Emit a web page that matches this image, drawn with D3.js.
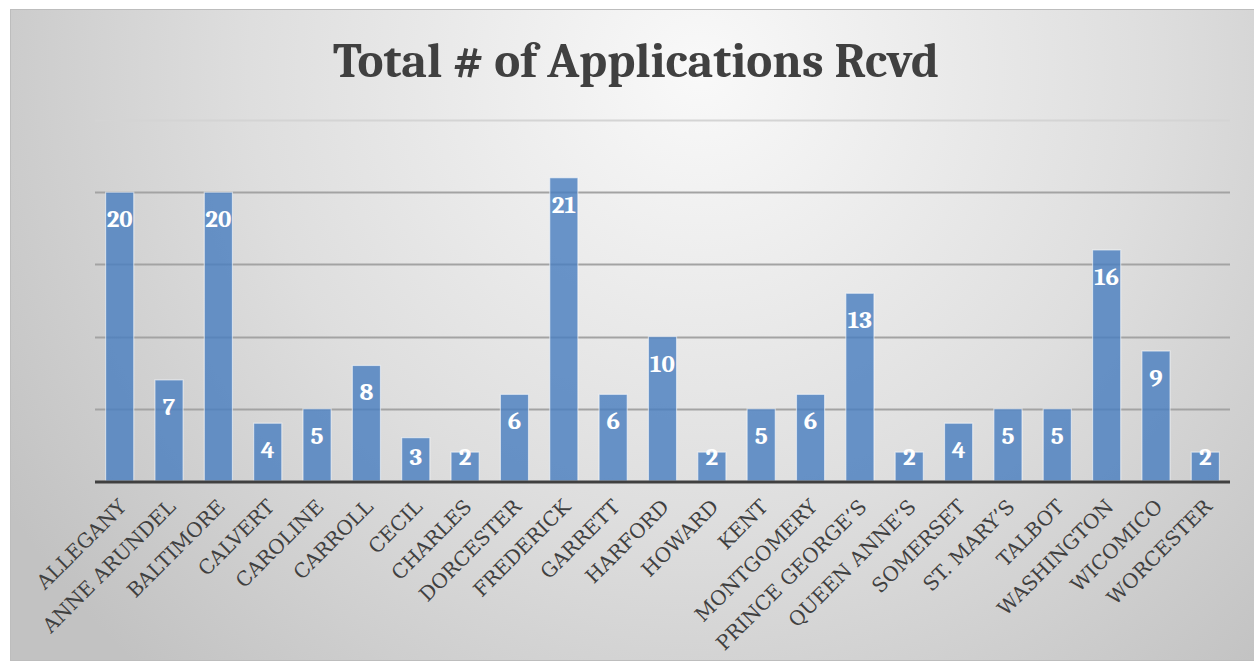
<!DOCTYPE html>
<html>
<head>
<meta charset="utf-8">
<script src="https://cdn.jsdelivr.net/npm/d3@7"></script>
<style>
  html, body { margin: 0; padding: 0; background: #fff; }
  svg { display: block; }
</style>
</head>
<body>
<div id="chart"></div>
<script>
var counties = ['ALLEGANY', 'ANNE ARUNDEL', 'BALTIMORE', 'CALVERT', 'CAROLINE', 'CARROLL',
  'CECIL', 'CHARLES', 'DORCESTER', 'FREDERICK', 'GARRETT', 'HARFORD', 'HOWARD', 'KENT',
  'MONTGOMERY', 'PRINCE GEORGE\u2019S', 'QUEEN ANNE\u2019S', 'SOMERSET', 'ST. MARY\u2019S',
  'TALBOT', 'WASHINGTON', 'WICOMICO', 'WORCESTER'];
var applications = [20, 7, 20, 4, 5, 8, 3, 2, 6, 21, 6, 10, 2, 5, 6, 13, 2, 4, 5, 5, 16, 9, 2];
var gridTicks = [0, 5, 10, 15, 20, 25];
var titleText = 'Total # of Applications Rcvd';

(function () {
  var width = 1254;
  var height = 661;
  var frame = { x: 10, y: 9, w: 1250, h: 651 };
  var margin = { top: 120, right: 24, bottom: 180, left: 95 };
  var serif = 'Cambria, "Liberation Serif", "DejaVu Serif", serif';
  var labelFont = '"DejaVu Serif", serif';

  var svg = d3.select('#chart').append('svg')
      .attr('width', width)
      .attr('height', height);

  var defs = svg.append('defs');
  var bg = defs.append('radialGradient')
      .attr('id', 'bg')
      .attr('gradientUnits', 'userSpaceOnUse')
      .attr('cx', 700).attr('cy', 70).attr('r', 820);
  bg.append('stop').attr('offset', 0).attr('stop-color', '#f9f9f9');
  bg.append('stop').attr('offset', 0.55).attr('stop-color', '#dedede');
  bg.append('stop').attr('offset', 1).attr('stop-color', '#c2c2c2');

  svg.append('rect')
      .attr('x', frame.x + 0.5)
      .attr('y', frame.y + 0.5)
      .attr('width', frame.w)
      .attr('height', frame.h)
      .attr('fill', 'url(#bg)')
      .attr('stroke', '#bdbdbd')
      .attr('stroke-width', 1);

  var x = d3.scaleBand()
      .domain(counties)
      .range([margin.left, width - margin.right])
      .paddingInner(0.43)
      .paddingOuter(0.215);

  var y = d3.scaleLinear()
      .domain([0, 25])
      .range([height - margin.bottom, margin.top]);

  // title
  svg.append('text')
      .attr('x', frame.x + frame.w / 2 + 1)
      .attr('y', 77)
      .attr('text-anchor', 'middle')
      .attr('font-family', serif)
      .attr('font-weight', 'bold')
      .attr('font-size', 49)
      .attr('fill', '#404040')
      .text(titleText);

  // gridlines
  svg.append('g').selectAll('line.grid')
      .data(gridTicks.filter(function (d) { return d > 0; }))
      .enter().append('line')
      .attr('class', 'grid')
      .attr('x1', margin.left)
      .attr('x2', width - margin.right)
      .attr('y1', function (d) { return Math.round(y(d)) + 0.5; })
      .attr('y2', function (d) { return Math.round(y(d)) + 0.5; })
      .attr('stroke', function (d) { return d === 25 ? '#d4d4d4' : '#a3a3a3'; })
      .attr('stroke-width', 2);

  // bars
  svg.append('g').selectAll('rect.bar')
      .data(applications)
      .enter().append('rect')
      .attr('class', 'bar')
      .attr('x', function (d, i) { return x(counties[i]); })
      .attr('y', function (d) { return y(d); })
      .attr('width', x.bandwidth())
      .attr('height', function (d) { return y(0) - y(d); })
      .attr('fill', '#4a7fc0')
      .attr('fill-opacity', 0.82)
      .attr('stroke', 'rgba(255,255,255,0.55)')
      .attr('stroke-width', 1.2);

  // axis line
  svg.append('line')
      .attr('x1', margin.left)
      .attr('x2', width - margin.right)
      .attr('y1', y(0) + 1)
      .attr('y2', y(0) + 1)
      .attr('stroke', '#404040')
      .attr('stroke-width', 3);

  // value labels, inside end
  svg.append('g').selectAll('text.value')
      .data(applications)
      .enter().append('text')
      .attr('class', 'value')
      .attr('x', function (d, i) { return x(counties[i]) + x.bandwidth() / 2; })
      .attr('y', function (d) { return Math.min(y(d) + 35, y(0) - 16); })
      .attr('text-anchor', 'middle')
      .attr('font-family', serif)
      .attr('font-weight', 'bold')
      .attr('font-size', 25)
      .attr('fill', '#fff')
      .text(function (d) { return d; });

  // category labels
  svg.append('g').selectAll('text.cat')
      .data(counties)
      .enter().append('text')
      .attr('class', 'cat')
      .attr('transform', function (d) {
        return 'translate(' + (x(d) + x.bandwidth() / 2 + 3) + ',' + (y(0) + 22) + ') rotate(-45)';
      })
      .attr('text-anchor', 'end')
      .attr('dy', '0.35em')
      .attr('font-family', labelFont)
      .attr('font-size', 20)
      .attr('fill', '#404040')
      .text(function (d) { return d; });
})();
</script>
</body>
</html>
